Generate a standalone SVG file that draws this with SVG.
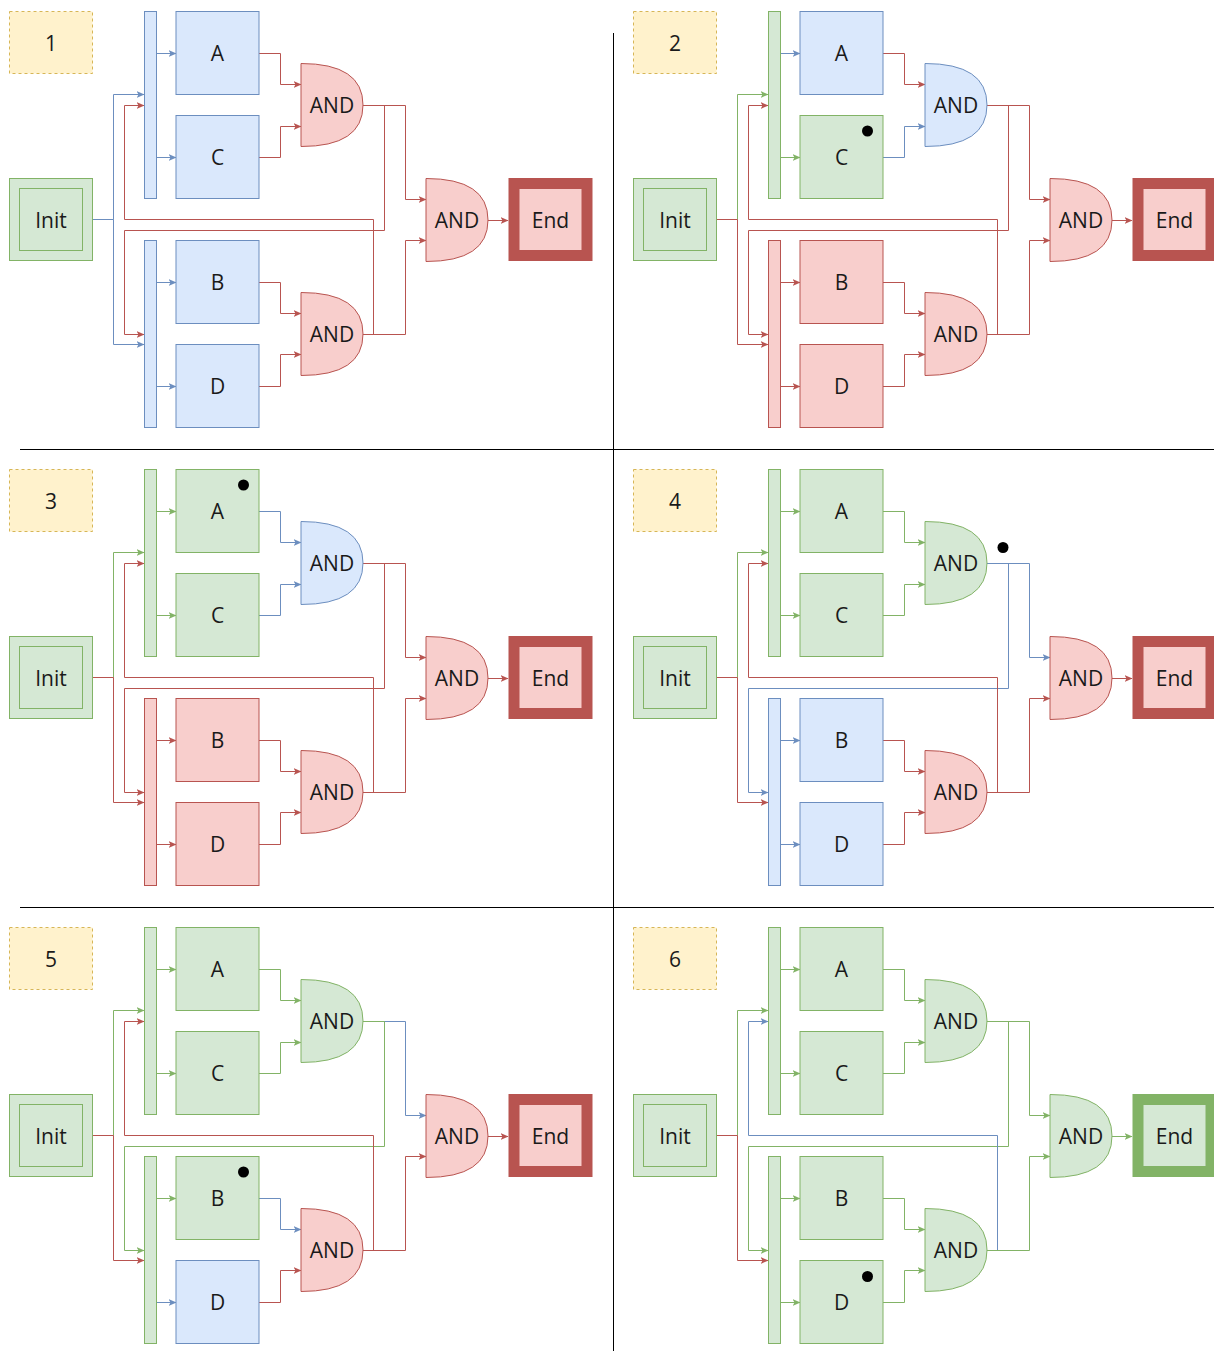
<svg xmlns="http://www.w3.org/2000/svg" width="1214" height="1351" viewBox="0 0 1214 1351">
<style>
text{font-family:"Open Sans","Noto Sans","DejaVu Sans",sans-serif;font-size:21px;fill:#1a1a1a;text-anchor:middle}
.y{fill:#fff2cc;stroke:#d6b656;stroke-dasharray:3 3}
.b{fill:#dae8fc;stroke:#6c8ebf}
.g{fill:#d5e8d4;stroke:#82b366}
.r{fill:#f8cecc;stroke:#b85450}
.eb,.eg,.er{fill:none;stroke-width:1}
.eb{stroke:#6c8ebf;marker-end:url(#mb)}
.eg{stroke:#82b366;marker-end:url(#mg)}
.er{stroke:#b85450;marker-end:url(#mr)}
.endr{fill:#f8cecc;stroke:#b85450;stroke-width:11}
.endg{fill:#d5e8d4;stroke:#82b366;stroke-width:11}
.dot{fill:#000}
.div{stroke:#000;stroke-width:1}
</style>
<defs>
<marker id="mb" viewBox="0 0 8 7" refX="7.5" refY="3.5" markerWidth="8" markerHeight="7" markerUnits="userSpaceOnUse" orient="auto"><path d="M0,0 L8,3.5 L0,7 L2,3.5 Z" fill="#6c8ebf"/></marker>
<marker id="mg" viewBox="0 0 8 7" refX="7.5" refY="3.5" markerWidth="8" markerHeight="7" markerUnits="userSpaceOnUse" orient="auto"><path d="M0,0 L8,3.5 L0,7 L2,3.5 Z" fill="#82b366"/></marker>
<marker id="mr" viewBox="0 0 8 7" refX="7.5" refY="3.5" markerWidth="8" markerHeight="7" markerUnits="userSpaceOnUse" orient="auto"><path d="M0,0 L8,3.5 L0,7 L2,3.5 Z" fill="#b85450"/></marker>
</defs>
<g id="dividers">
<line class="div" x1="613.5" y1="33" x2="613.5" y2="1351"/>
<line class="div" x1="20" y1="449.5" x2="1214" y2="449.5"/>
<line class="div" x1="20" y1="907.5" x2="1214" y2="907.5"/>
</g>

<!-- PANEL 1 -->
<g id="panel1" transform="translate(0,0)">
<g id="p1-connectors">
<path class="eb" d="M92.5 219.5 H113.5 V94.5 H144"/>
<path class="eb" d="M92.5 219.5 H113.5 V344.5 H144"/>
<path class="eb" d="M156.5 53.5 H176"/>
<path class="eb" d="M156.5 157.5 H176"/>
<path class="eb" d="M156.5 282.5 H176"/>
<path class="eb" d="M156.5 386.5 H176"/>
<path class="er" d="M259 53.5 H280.5 V84.5 H301"/>
<path class="er" d="M259 157.5 H280.5 V126.5 H301"/>
<path class="er" d="M259 282.5 H280.5 V313.5 H301"/>
<path class="er" d="M259 386.5 H280.5 V354.5 H301"/>
<path class="er" d="M363 105.5 H405.5 V199.5 H426"/>
<path class="er" d="M363 105.5 H384.5 V230.5 H124.5 V334.5 H144"/>
<path class="er" d="M363 334.5 H373.5 V219.5 H124.5 V105.5 H144"/>
<path class="er" d="M363 334.5 H405.5 V240.5 H426"/>
<path class="er" d="M488 220.5 H508"/>
</g>
<g id="p1-label"><rect class="y" x="9.5" y="11.5" width="83" height="62"/><text x="51" y="50.5">1</text></g>
<g id="p1-init"><rect class="g" x="9.5" y="178.5" width="83" height="82"/><rect class="g" x="19.5" y="188.5" width="63" height="62"/><text x="51" y="227.5">Init</text></g>
<g id="p1-topbar"><rect class="b" x="144.5" y="11.5" width="12" height="187"/></g>
<g id="p1-botbar"><rect class="b" x="144.5" y="240.5" width="12" height="187"/></g>
<g id="p1-A"><rect class="b" x="176" y="11.5" width="83" height="83"/><text x="217.5" y="61">A</text></g>
<g id="p1-C"><rect class="b" x="176" y="115.5" width="83" height="83"/><text x="217.5" y="165">C</text></g>
<g id="p1-B"><rect class="b" x="176" y="240.5" width="83" height="83"/><text x="217.5" y="290">B</text></g>
<g id="p1-D"><rect class="b" x="176" y="344.5" width="83" height="83"/><text x="217.5" y="394">D</text></g>
<g id="p1-and1"><path class="r" d="M301 63.5 Q363 63.5 363 105 Q363 146.5 301 146.5 Z"/><text x="332" y="113">AND</text></g>
<g id="p1-and2"><path class="r" d="M301 292.5 Q363 292.5 363 334 Q363 375.5 301 375.5 Z"/><text x="332" y="342">AND</text></g>
<g id="p1-and3"><path class="r" d="M426 178.5 Q488 178.5 488 220 Q488 261.5 426 261.5 Z"/><text x="457" y="228">AND</text></g>
<g id="p1-end"><rect class="endr" x="514" y="183.5" width="73" height="72"/><text x="550.5" y="227.5">End</text></g>
</g>

<!-- PANEL 2 -->
<g id="panel2" transform="translate(624,0)">
<g id="p2-connectors">
<path class="eg" d="M92.5 219.5 H113.5 V94.5 H144"/>
<path class="er" d="M92.5 219.5 H113.5 V344.5 H144"/>
<path class="eb" d="M156.5 53.5 H176"/>
<path class="eg" d="M156.5 157.5 H176"/>
<path class="er" d="M156.5 282.5 H176"/>
<path class="er" d="M156.5 386.5 H176"/>
<path class="er" d="M259 53.5 H280.5 V84.5 H301"/>
<path class="eb" d="M259 157.5 H280.5 V126.5 H301"/>
<path class="er" d="M259 282.5 H280.5 V313.5 H301"/>
<path class="er" d="M259 386.5 H280.5 V354.5 H301"/>
<path class="er" d="M363 105.5 H405.5 V199.5 H426"/>
<path class="er" d="M363 105.5 H384.5 V230.5 H124.5 V334.5 H144"/>
<path class="er" d="M363 334.5 H373.5 V219.5 H124.5 V105.5 H144"/>
<path class="er" d="M363 334.5 H405.5 V240.5 H426"/>
<path class="er" d="M488 220.5 H508"/>
</g>
<g id="p2-label"><rect class="y" x="9.5" y="11.5" width="83" height="62"/><text x="51" y="50.5">2</text></g>
<g id="p2-init"><rect class="g" x="9.5" y="178.5" width="83" height="82"/><rect class="g" x="19.5" y="188.5" width="63" height="62"/><text x="51" y="227.5">Init</text></g>
<g id="p2-topbar"><rect class="g" x="144.5" y="11.5" width="12" height="187"/></g>
<g id="p2-botbar"><rect class="r" x="144.5" y="240.5" width="12" height="187"/></g>
<g id="p2-A"><rect class="b" x="176" y="11.5" width="83" height="83"/><text x="217.5" y="61">A</text></g>
<g id="p2-C"><rect class="g" x="176" y="115.5" width="83" height="83"/><text x="217.5" y="165">C</text><circle class="dot" cx="243.5" cy="131" r="5.5"/></g>
<g id="p2-B"><rect class="r" x="176" y="240.5" width="83" height="83"/><text x="217.5" y="290">B</text></g>
<g id="p2-D"><rect class="r" x="176" y="344.5" width="83" height="83"/><text x="217.5" y="394">D</text></g>
<g id="p2-and1"><path class="b" d="M301 63.5 Q363 63.5 363 105 Q363 146.5 301 146.5 Z"/><text x="332" y="113">AND</text></g>
<g id="p2-and2"><path class="r" d="M301 292.5 Q363 292.5 363 334 Q363 375.5 301 375.5 Z"/><text x="332" y="342">AND</text></g>
<g id="p2-and3"><path class="r" d="M426 178.5 Q488 178.5 488 220 Q488 261.5 426 261.5 Z"/><text x="457" y="228">AND</text></g>
<g id="p2-end"><rect class="endr" x="514" y="183.5" width="73" height="72"/><text x="550.5" y="227.5">End</text></g>
</g>

<!-- PANEL 3 -->
<g id="panel3" transform="translate(0,458)">
<g id="p3-connectors">
<path class="eg" d="M92.5 219.5 H113.5 V94.5 H144"/>
<path class="er" d="M92.5 219.5 H113.5 V344.5 H144"/>
<path class="eg" d="M156.5 53.5 H176"/>
<path class="eg" d="M156.5 157.5 H176"/>
<path class="er" d="M156.5 282.5 H176"/>
<path class="er" d="M156.5 386.5 H176"/>
<path class="eb" d="M259 53.5 H280.5 V84.5 H301"/>
<path class="eb" d="M259 157.5 H280.5 V126.5 H301"/>
<path class="er" d="M259 282.5 H280.5 V313.5 H301"/>
<path class="er" d="M259 386.5 H280.5 V354.5 H301"/>
<path class="er" d="M363 105.5 H405.5 V199.5 H426"/>
<path class="er" d="M363 105.5 H384.5 V230.5 H124.5 V334.5 H144"/>
<path class="er" d="M363 334.5 H373.5 V219.5 H124.5 V105.5 H144"/>
<path class="er" d="M363 334.5 H405.5 V240.5 H426"/>
<path class="er" d="M488 220.5 H508"/>
</g>
<g id="p3-label"><rect class="y" x="9.5" y="11.5" width="83" height="62"/><text x="51" y="50.5">3</text></g>
<g id="p3-init"><rect class="g" x="9.5" y="178.5" width="83" height="82"/><rect class="g" x="19.5" y="188.5" width="63" height="62"/><text x="51" y="227.5">Init</text></g>
<g id="p3-topbar"><rect class="g" x="144.5" y="11.5" width="12" height="187"/></g>
<g id="p3-botbar"><rect class="r" x="144.5" y="240.5" width="12" height="187"/></g>
<g id="p3-A"><rect class="g" x="176" y="11.5" width="83" height="83"/><text x="217.5" y="61">A</text><circle class="dot" cx="243.5" cy="27" r="5.5"/></g>
<g id="p3-C"><rect class="g" x="176" y="115.5" width="83" height="83"/><text x="217.5" y="165">C</text></g>
<g id="p3-B"><rect class="r" x="176" y="240.5" width="83" height="83"/><text x="217.5" y="290">B</text></g>
<g id="p3-D"><rect class="r" x="176" y="344.5" width="83" height="83"/><text x="217.5" y="394">D</text></g>
<g id="p3-and1"><path class="b" d="M301 63.5 Q363 63.5 363 105 Q363 146.5 301 146.5 Z"/><text x="332" y="113">AND</text></g>
<g id="p3-and2"><path class="r" d="M301 292.5 Q363 292.5 363 334 Q363 375.5 301 375.5 Z"/><text x="332" y="342">AND</text></g>
<g id="p3-and3"><path class="r" d="M426 178.5 Q488 178.5 488 220 Q488 261.5 426 261.5 Z"/><text x="457" y="228">AND</text></g>
<g id="p3-end"><rect class="endr" x="514" y="183.5" width="73" height="72"/><text x="550.5" y="227.5">End</text></g>
</g>

<!-- PANEL 4 -->
<g id="panel4" transform="translate(624,458)">
<g id="p4-connectors">
<path class="eg" d="M92.5 219.5 H113.5 V94.5 H144"/>
<path class="er" d="M92.5 219.5 H113.5 V344.5 H144"/>
<path class="eg" d="M156.5 53.5 H176"/>
<path class="eg" d="M156.5 157.5 H176"/>
<path class="eb" d="M156.5 282.5 H176"/>
<path class="eb" d="M156.5 386.5 H176"/>
<path class="eg" d="M259 53.5 H280.5 V84.5 H301"/>
<path class="eg" d="M259 157.5 H280.5 V126.5 H301"/>
<path class="er" d="M259 282.5 H280.5 V313.5 H301"/>
<path class="er" d="M259 386.5 H280.5 V354.5 H301"/>
<path class="eb" d="M363 105.5 H405.5 V199.5 H426"/>
<path class="eb" d="M363 105.5 H384.5 V230.5 H124.5 V334.5 H144"/>
<path class="er" d="M363 334.5 H373.5 V219.5 H124.5 V105.5 H144"/>
<path class="er" d="M363 334.5 H405.5 V240.5 H426"/>
<path class="er" d="M488 220.5 H508"/>
</g>
<g id="p4-label"><rect class="y" x="9.5" y="11.5" width="83" height="62"/><text x="51" y="50.5">4</text></g>
<g id="p4-init"><rect class="g" x="9.5" y="178.5" width="83" height="82"/><rect class="g" x="19.5" y="188.5" width="63" height="62"/><text x="51" y="227.5">Init</text></g>
<g id="p4-topbar"><rect class="g" x="144.5" y="11.5" width="12" height="187"/></g>
<g id="p4-botbar"><rect class="b" x="144.5" y="240.5" width="12" height="187"/></g>
<g id="p4-A"><rect class="g" x="176" y="11.5" width="83" height="83"/><text x="217.5" y="61">A</text></g>
<g id="p4-C"><rect class="g" x="176" y="115.5" width="83" height="83"/><text x="217.5" y="165">C</text></g>
<g id="p4-B"><rect class="b" x="176" y="240.5" width="83" height="83"/><text x="217.5" y="290">B</text></g>
<g id="p4-D"><rect class="b" x="176" y="344.5" width="83" height="83"/><text x="217.5" y="394">D</text></g>
<g id="p4-and1"><path class="g" d="M301 63.5 Q363 63.5 363 105 Q363 146.5 301 146.5 Z"/><text x="332" y="113">AND</text><circle class="dot" cx="379" cy="89.5" r="5.5"/></g>
<g id="p4-and2"><path class="r" d="M301 292.5 Q363 292.5 363 334 Q363 375.5 301 375.5 Z"/><text x="332" y="342">AND</text></g>
<g id="p4-and3"><path class="r" d="M426 178.5 Q488 178.5 488 220 Q488 261.5 426 261.5 Z"/><text x="457" y="228">AND</text></g>
<g id="p4-end"><rect class="endr" x="514" y="183.5" width="73" height="72"/><text x="550.5" y="227.5">End</text></g>
</g>

<!-- PANEL 5 -->
<g id="panel5" transform="translate(0,916)">
<g id="p5-connectors">
<path class="eg" d="M92.5 219.5 H113.5 V94.5 H144"/>
<path class="er" d="M92.5 219.5 H113.5 V344.5 H144"/>
<path class="eg" d="M156.5 53.5 H176"/>
<path class="eg" d="M156.5 157.5 H176"/>
<path class="eg" d="M156.5 282.5 H176"/>
<path class="eb" d="M156.5 386.5 H176"/>
<path class="eg" d="M259 53.5 H280.5 V84.5 H301"/>
<path class="eg" d="M259 157.5 H280.5 V126.5 H301"/>
<path class="eb" d="M259 282.5 H280.5 V313.5 H301"/>
<path class="er" d="M259 386.5 H280.5 V354.5 H301"/>
<path class="eb" d="M363 105.5 H405.5 V199.5 H426"/>
<path class="eg" d="M363 105.5 H384.5 V230.5 H124.5 V334.5 H144"/>
<path class="er" d="M363 334.5 H373.5 V219.5 H124.5 V105.5 H144"/>
<path class="er" d="M363 334.5 H405.5 V240.5 H426"/>
<path class="er" d="M488 220.5 H508"/>
</g>
<g id="p5-label"><rect class="y" x="9.5" y="11.5" width="83" height="62"/><text x="51" y="50.5">5</text></g>
<g id="p5-init"><rect class="g" x="9.5" y="178.5" width="83" height="82"/><rect class="g" x="19.5" y="188.5" width="63" height="62"/><text x="51" y="227.5">Init</text></g>
<g id="p5-topbar"><rect class="g" x="144.5" y="11.5" width="12" height="187"/></g>
<g id="p5-botbar"><rect class="g" x="144.5" y="240.5" width="12" height="187"/></g>
<g id="p5-A"><rect class="g" x="176" y="11.5" width="83" height="83"/><text x="217.5" y="61">A</text></g>
<g id="p5-C"><rect class="g" x="176" y="115.5" width="83" height="83"/><text x="217.5" y="165">C</text></g>
<g id="p5-B"><rect class="g" x="176" y="240.5" width="83" height="83"/><text x="217.5" y="290">B</text><circle class="dot" cx="243.5" cy="256" r="5.5"/></g>
<g id="p5-D"><rect class="b" x="176" y="344.5" width="83" height="83"/><text x="217.5" y="394">D</text></g>
<g id="p5-and1"><path class="g" d="M301 63.5 Q363 63.5 363 105 Q363 146.5 301 146.5 Z"/><text x="332" y="113">AND</text></g>
<g id="p5-and2"><path class="r" d="M301 292.5 Q363 292.5 363 334 Q363 375.5 301 375.5 Z"/><text x="332" y="342">AND</text></g>
<g id="p5-and3"><path class="r" d="M426 178.5 Q488 178.5 488 220 Q488 261.5 426 261.5 Z"/><text x="457" y="228">AND</text></g>
<g id="p5-end"><rect class="endr" x="514" y="183.5" width="73" height="72"/><text x="550.5" y="227.5">End</text></g>
</g>

<!-- PANEL 6 -->
<g id="panel6" transform="translate(624,916)">
<g id="p6-connectors">
<path class="eg" d="M92.5 219.5 H113.5 V94.5 H144"/>
<path class="er" d="M92.5 219.5 H113.5 V344.5 H144"/>
<path class="eg" d="M156.5 53.5 H176"/>
<path class="eg" d="M156.5 157.5 H176"/>
<path class="eg" d="M156.5 282.5 H176"/>
<path class="eg" d="M156.5 386.5 H176"/>
<path class="eg" d="M259 53.5 H280.5 V84.5 H301"/>
<path class="eg" d="M259 157.5 H280.5 V126.5 H301"/>
<path class="eg" d="M259 282.5 H280.5 V313.5 H301"/>
<path class="eg" d="M259 386.5 H280.5 V354.5 H301"/>
<path class="eg" d="M363 105.5 H405.5 V199.5 H426"/>
<path class="eg" d="M363 105.5 H384.5 V230.5 H124.5 V334.5 H144"/>
<path class="eb" d="M363 334.5 H373.5 V219.5 H124.5 V105.5 H144"/>
<path class="eg" d="M363 334.5 H405.5 V240.5 H426"/>
<path class="eg" d="M488 220.5 H508"/>
</g>
<g id="p6-label"><rect class="y" x="9.5" y="11.5" width="83" height="62"/><text x="51" y="50.5">6</text></g>
<g id="p6-init"><rect class="g" x="9.5" y="178.5" width="83" height="82"/><rect class="g" x="19.5" y="188.5" width="63" height="62"/><text x="51" y="227.5">Init</text></g>
<g id="p6-topbar"><rect class="g" x="144.5" y="11.5" width="12" height="187"/></g>
<g id="p6-botbar"><rect class="g" x="144.5" y="240.5" width="12" height="187"/></g>
<g id="p6-A"><rect class="g" x="176" y="11.5" width="83" height="83"/><text x="217.5" y="61">A</text></g>
<g id="p6-C"><rect class="g" x="176" y="115.5" width="83" height="83"/><text x="217.5" y="165">C</text></g>
<g id="p6-B"><rect class="g" x="176" y="240.5" width="83" height="83"/><text x="217.5" y="290">B</text></g>
<g id="p6-D"><rect class="g" x="176" y="344.5" width="83" height="83"/><text x="217.5" y="394">D</text><circle class="dot" cx="243.5" cy="360.5" r="5.5"/></g>
<g id="p6-and1"><path class="g" d="M301 63.5 Q363 63.5 363 105 Q363 146.5 301 146.5 Z"/><text x="332" y="113">AND</text></g>
<g id="p6-and2"><path class="g" d="M301 292.5 Q363 292.5 363 334 Q363 375.5 301 375.5 Z"/><text x="332" y="342">AND</text></g>
<g id="p6-and3"><path class="g" d="M426 178.5 Q488 178.5 488 220 Q488 261.5 426 261.5 Z"/><text x="457" y="228">AND</text></g>
<g id="p6-end"><rect class="endg" x="514" y="183.5" width="73" height="72"/><text x="550.5" y="227.5">End</text></g>
</g>
</svg>
